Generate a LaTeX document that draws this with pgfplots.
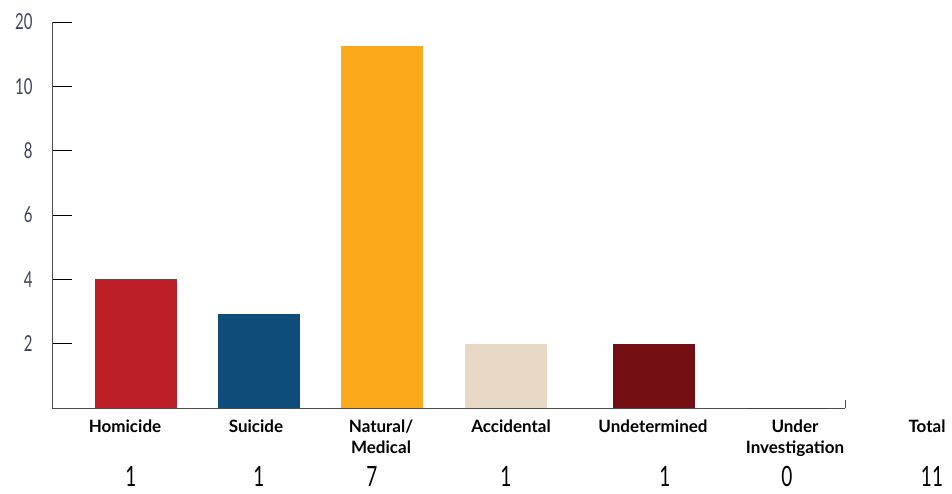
\documentclass[border=0pt]{standalone}
\usepackage{fontspec}
\setmainfont{Lato}
\newfontfamily\condfont[FakeStretch=0.68]{Lato}
\usepackage{pgfplots}
\pgfplotsset{compat=1.18}
\definecolor{chom}{HTML}{BC2026}
\definecolor{csui}{HTML}{0E4C7A}
\definecolor{cnat}{HTML}{FBAA1C}
\definecolor{cacc}{HTML}{E8D9C7}
\definecolor{cund}{HTML}{730F12}
\definecolor{cnavy}{HTML}{3C4160}
\begin{document}
\begin{tikzpicture}[x=1pt,y=1pt]
\useasboundingbox (0,0) rectangle (952,493);
\begin{axis}[
  at={(52pt,85pt)}, anchor=south west, scale only axis,
  width=793pt, height=386pt,
  xmin=52, xmax=845, ymin=0, ymax=12,
  axis x line*=bottom, axis y line*=left,
  axis line style={draw=black!70, line width=1pt},
  xtick=\empty,
  ytick={2,4,6,8,10,12}, yticklabels={2,4,6,8,10,20},
  tick align=inside, major tick length=20pt,
  ytick style={draw=black, line width=0.8pt},
  /pgf/number format/assume math mode=true,
  yticklabel style={font=\condfont\fontsize{22}{22}\selectfont, text=cnavy, xshift=-16pt},
  clip=false,
]
\addplot[ybar, bar width=82, bar shift=0pt, fill=chom, draw=none] coordinates {(136,4)};
\addplot[ybar, bar width=82, bar shift=0pt, fill=csui, draw=none] coordinates {(259,2.92)};
\addplot[ybar, bar width=82, bar shift=0pt, fill=cnat, draw=none] coordinates {(382,11.25)};
\addplot[ybar, bar width=82, bar shift=0pt, fill=cacc, draw=none] coordinates {(506,2)};
\addplot[ybar, bar width=82, bar shift=0pt, fill=cund, draw=none] coordinates {(654,2)};
\addplot[ybar, bar width=82, bar shift=0pt, fill=black, draw=none] coordinates {(787,0)};
\draw[black!70, line width=1pt] (axis cs:845,0) -- (axis cs:845,0.25);
\end{axis}
\begin{scope}[every node/.style={font=\bfseries\fontsize{17}{21}\selectfont, align=center, anchor=north, inner sep=0pt}]
\node at (125,73) {Homicide};
\node at (256,73) {Suicide};
\node at (381,73) {Natural/\\Medical};
\node at (511,73) {Accidental};
\node at (653,73) {Undetermined};
\node at (795,73) {Under\\Investigation};
\node at (927,73) {Total};
\end{scope}
\begin{scope}[every node/.style={font=\condfont\fontsize{28}{28}\selectfont, anchor=base, inner sep=0pt}]
\node at (131,7) {1};
\node at (259,7) {1};
\node at (372,7) {7};
\node at (506,7) {1};
\node at (665,7) {1};
\node at (787,7) {0};
\node at (932,7) {11};
\end{scope}
\end{tikzpicture}
\end{document}
